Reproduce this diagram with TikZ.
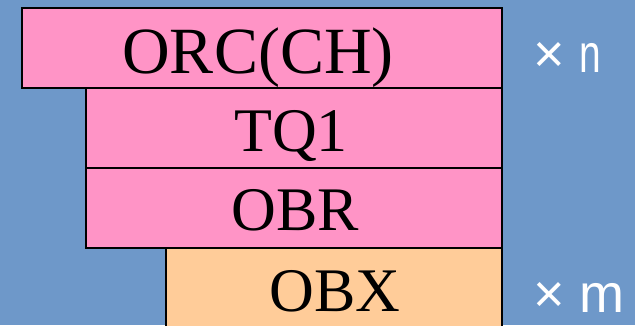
\documentclass[tikz,border=0pt]{standalone}
\usepackage{fontspec}
\usepackage{graphicx}
\setmainfont{Liberation Serif}
\newfontfamily\labfont{Liberation Sans}
\definecolor{bgblue}{HTML}{6E98C9}
\definecolor{pinkbox}{HTML}{FF94C6}
\definecolor{orangebox}{HTML}{FFCC99}
\begin{document}
\begin{tikzpicture}[x=1pt,y=-1pt,
  seg/.style={draw=black,line width=1.2pt,inner sep=0pt,outer sep=0pt},
  segtext/.style={font=\fontsize{62}{62}\selectfont,text=black,inner sep=0pt,anchor=base},
  mult/.style={font=\labfont\fontsize{54}{54}\selectfont,text=white,inner sep=0pt,anchor=base west}]
\useasboundingbox (0,0) rectangle (635,325);
\fill[bgblue] (0,0) rectangle (635,325);
\draw[seg,fill=orangebox] (166,248) rectangle (502,330);
\draw[seg,fill=pinkbox] (86,168) rectangle (502,248);
\draw[seg,fill=pinkbox] (86,88) rectangle (502,168);
\draw[seg,fill=pinkbox] (22,8) rectangle (502,88);
\node[segtext,font=\fontsize{66}{66}\selectfont] (orc) at (258,73) {ORC(CH)};
\node[segtext] (tq1) at (291,151) {TQ1};
\node[segtext] (obr) at (295,230) {OBR};
\node[segtext] (obx) at (335,311) {OBX};
\node[mult] (n) at (533,72) {× \scalebox{0.72}[1]{n}};
\node[mult] (m) at (533,312) {× m};
\end{tikzpicture}
\end{document}
